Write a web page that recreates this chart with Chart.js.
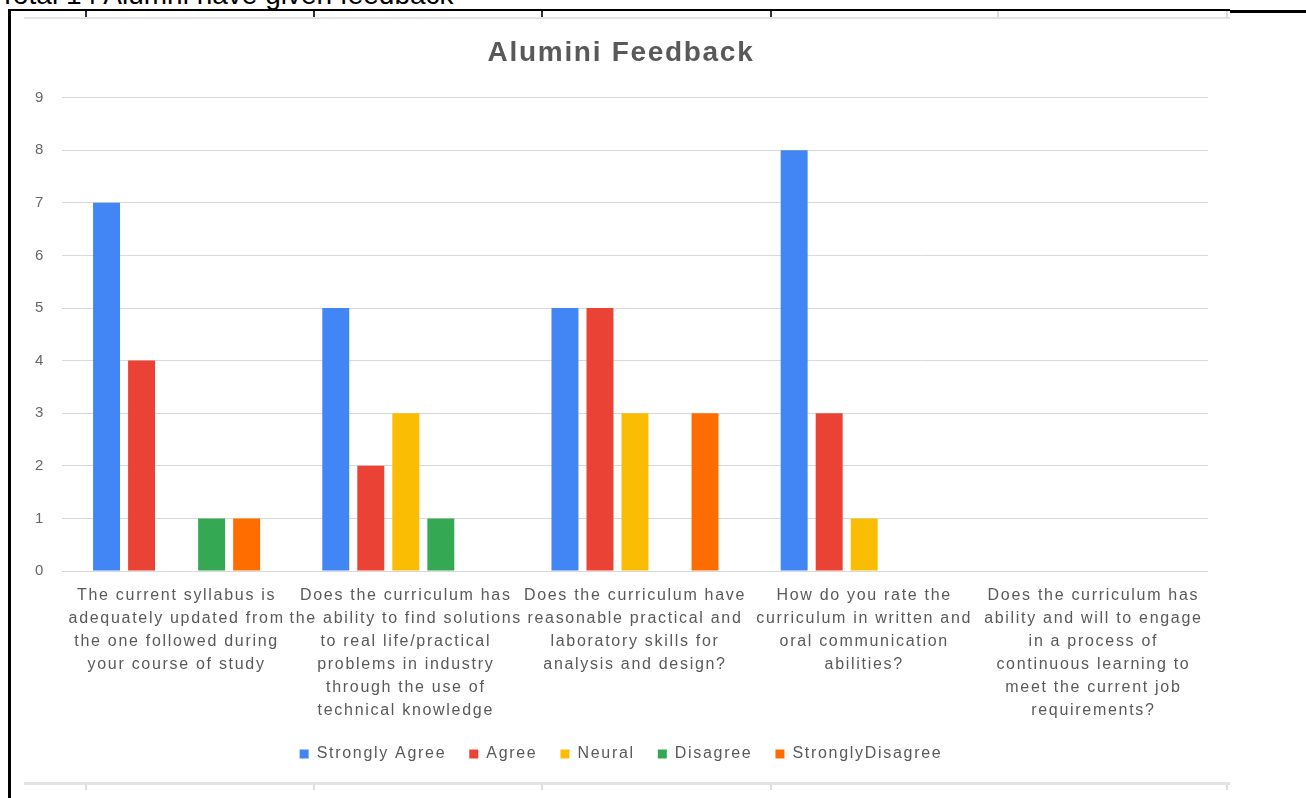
<!DOCTYPE html>
<html>
<head>
<meta charset="utf-8">
<script src="https://cdn.jsdelivr.net/npm/chart.js@4"></script>
<style>
  body { margin: 0; width: 1306px; height: 798px; overflow: hidden; background: #fff; position: relative; font-family: "Liberation Sans", Arial, sans-serif; }
  .abs { position: absolute; }
  #caption { left: -1px; top: -19px; font-size: 28px; line-height: 28px; color: #000; white-space: nowrap; }
  #chartBox { left: 24px; top: 20px; width: 1206px; height: 762px; }
</style>
</head>
<body>
<div id="caption" class="abs">Total 14 Alumni have given feedback</div>

<!-- sheet / page borders around the chart -->
<div class="abs" style="left:8px;top:9px;width:1222px;height:2px;background:#000"></div>
<div class="abs" style="left:1230px;top:10px;width:76px;height:3px;background:#000"></div>
<div class="abs" style="left:8px;top:9px;width:3px;height:789px;background:#000"></div>
<div class="abs" style="left:24px;top:17px;width:1206px;height:2px;background:#e3e3e3"></div>
<div class="abs" style="left:24px;top:782px;width:1206px;height:3px;background:#e3e3e3"></div>
<div class="abs" style="left:85px;top:11px;width:2px;height:6px;background:#333"></div>
<div class="abs" style="left:313px;top:11px;width:2px;height:6px;background:#333"></div>
<div class="abs" style="left:541px;top:11px;width:2px;height:6px;background:#333"></div>
<div class="abs" style="left:770px;top:11px;width:2px;height:6px;background:#333"></div>
<div class="abs" style="left:997px;top:11px;width:2px;height:6px;background:#ddd"></div>
<div class="abs" style="left:1226px;top:11px;width:2px;height:7px;background:#ddd"></div>
<div class="abs" style="left:85px;top:785px;width:2px;height:5px;background:#ddd"></div>
<div class="abs" style="left:313px;top:785px;width:2px;height:5px;background:#ddd"></div>
<div class="abs" style="left:541px;top:785px;width:2px;height:5px;background:#ddd"></div>
<div class="abs" style="left:770px;top:785px;width:2px;height:5px;background:#ddd"></div>
<div class="abs" style="left:1226px;top:785px;width:2px;height:5px;background:#ddd"></div>

<div id="chartBox" class="abs"><canvas id="feedbackChart"></canvas></div>

<script>
// questions (one array of lines per category)
const questions = [
  ['The current syllabus is', 'adequately updated from', 'the one followed during', 'your course of study'],
  ['Does the curriculum has', 'the ability to find solutions', 'to real life/practical', 'problems in industry', 'through the use of', 'technical knowledge'],
  ['Does the curriculum have', 'reasonable practical and', 'laboratory skills for', 'analysis and design?'],
  ['How do you rate the', 'curriculum in written and', 'oral communication', 'abilities?'],
  ['Does the curriculum has', 'ability and will to engage', 'in a process of', 'continuous learning to', 'meet the current job', 'requirements?']
];

const stronglyAgree    = [7, 5, 5, 8, 0];
const agree            = [4, 2, 5, 3, 0];
const neural           = [0, 3, 3, 1, 0];
const disagree         = [1, 1, 0, 0, 0];
const stronglyDisagree = [1, 0, 3, 0, 0];

const yTicks = [0, 1, 2, 3, 4, 5, 6, 7, 8, 9];

const FONT = "'Liberation Sans', Arial, sans-serif";

// canvas text is a bit wider in the original, so space the letters out
const spacing = {
  id: 'spacing',
  beforeUpdate(chart) { chart.ctx.letterSpacing = '1.7px'; },
  beforeDraw(chart)   { chart.ctx.letterSpacing = '1.7px'; }
};

function makeSet(label, data, color) {
  return {
    label, data,
    backgroundColor: color,
    borderWidth: 0,
    categoryPercentage: 0.764,
    barPercentage: 0.77
  };
}

document.addEventListener('DOMContentLoaded', () => {
  const ctx = document.getElementById('feedbackChart').getContext('2d');
  new Chart(ctx, {
    type: 'bar',
    data: {
      labels: questions,
      datasets: [
        makeSet('Strongly Agree', stronglyAgree, '#4285f4'),
        makeSet('Agree', agree, '#ea4335'),
        makeSet('Neural', neural, '#fbbc04'),
        makeSet('Disagree', disagree, '#34a853'),
        makeSet('StronglyDisagree', stronglyDisagree, '#ff6d01')
      ]
    },
    options: {
      responsive: true,
      maintainAspectRatio: false,
      animation: false,
      layout: { padding: { left: 10, right: 22, top: 0, bottom: 10 } },
      plugins: {
        title: {
          display: true,
          text: 'Alumini Feedback',
          color: '#595959',
          font: { family: FONT, size: 28, weight: 'bold' },
          padding: { top: 16, bottom: 28 }
        },
        legend: {
          position: 'bottom',
          labels: {
            boxWidth: 9,
            boxHeight: 9,
            padding: 23,
            color: '#595959',
            font: { family: FONT, size: 16 }
          }
        },
        tooltip: { enabled: false }
      },
      scales: {
        x: {
          grid: { display: false, drawTicks: false },
          border: { display: false },
          afterFit(scale) { scale.height = 152; },
          ticks: {
            autoSkip: false,
            maxRotation: 0,
            minRotation: 0,
            padding: 13,
            color: '#595959',
            font: { family: FONT, size: 16, lineHeight: 1.44 }
          }
        },
        y: {
          min: 0,
          max: yTicks[yTicks.length - 1],
          afterFit(scale) { scale.width = 28; },
          afterBuildTicks(scale) { scale.ticks = yTicks.map(v => ({ value: v })); },
          grid: { color: '#d9d9d9', drawTicks: false },
          border: { display: false },
          ticks: {
            padding: 17,
            color: '#666',
            font: { family: FONT, size: 15 }
          }
        }
      }
    },
    plugins: [spacing]
  });
});
</script>
</body>
</html>
